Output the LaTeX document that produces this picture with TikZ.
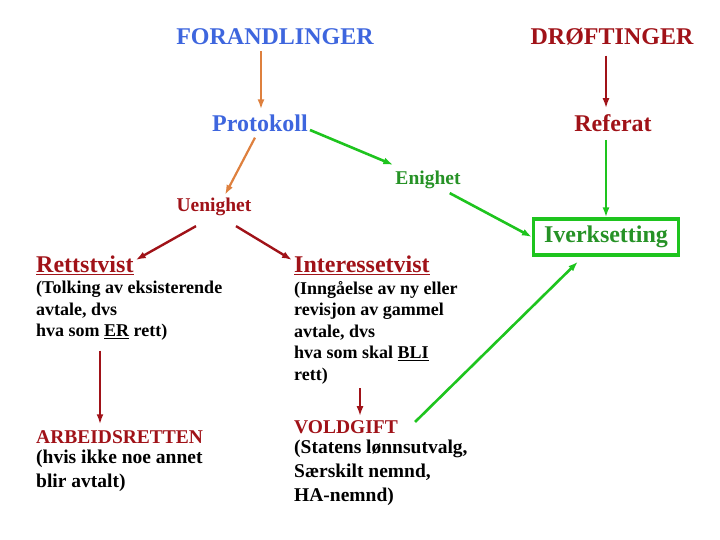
\documentclass[tikz,border=0pt]{standalone}
\usepackage{fontspec}
\setmainfont{Liberation Serif}
\usetikzlibrary{arrows.meta, positioning}

\begin{document}
\begin{tikzpicture}[
    x=1pt, y=-1pt,
    >=Latex,
    every node/.style={font=\bfseries, inner sep=2pt},
    headText/.style={font=\bfseries\fontsize{24}{27}\selectfont},
    subText/.style={font=\bfseries\fontsize{19.5}{22}\selectfont},
    bodyText/.style={font=\bfseries\fontsize{18}{21.5}\selectfont, align=left, text=black},
    lowText/.style={font=\bfseries\fontsize{19.5}{24}\selectfont, align=left, text=black},
    box/.style={rectangle, draw=boxGreen, line width=3.2pt, minimum width=145pt, minimum height=36pt},
    arrOrange/.style={-{Latex[length=10pt,width=7pt]}, draw=orangeTone, line width=2.2pt},
    arrRed/.style={-{Latex[length=10pt,width=7pt]}, draw=redTone, line width=2.4pt},
    arrGreen/.style={-{Latex[length=10pt,width=7pt]}, draw=boxGreen, line width=2.6pt}
  ]
    \definecolor{blueTone}{RGB}{62,102,222}
    \definecolor{redTone}{RGB}{160,18,24}
    \definecolor{orangeTone}{RGB}{222,128,62}
    \definecolor{greenTone}{RGB}{38,146,38}
    \definecolor{boxGreen}{RGB}{30,196,30}

    \useasboundingbox (0,0) rectangle (720,540);

    \node[headText, text=blueTone] (forh) at (275,37) {FORANDLINGER};
    \node[headText, text=redTone] (drof) at (612,37) {DRØFTINGER};
    \node[headText, text=blueTone] (prot) at (260,123) {Protokoll};
    \node[headText, text=redTone] (ref) at (613,123) {Referat};
    \node[subText, text=greenTone] (enig) at (428,180) {Enighet};
    \node[subText, text=redTone] (uenig) at (214,207) {Uenighet};
    \node[box, text=greenTone, headText] (iverk) at (606,237) {Iverksetting};

    \node[headText, text=redTone, anchor=west] (rett) at (34,265) {\underline{Rettstvist}};
    \node[bodyText, anchor=north west] (rettTxt) at (34,279) {(Tolking av eksisterende\\avtale, dvs\\hva som \underline{ER} rett)};
    \node[headText, text=redTone, anchor=west] (inter) at (292,265) {\underline{Interessetvist}};
    \node[bodyText, anchor=north west] (interTxt) at (292,279) {(Inngåelse av ny eller\\revisjon av gammel\\avtale, dvs\\hva som skal \underline{BLI}\\rett)};

    \node[subText, text=redTone, anchor=west] (arb) at (34,437) {ARBEIDSRETTEN};
    \node[lowText, anchor=north west] (arbTxt) at (34,448) {(hvis ikke noe annet\\blir avtalt)};
    \node[subText, text=redTone, anchor=west] (vold) at (292,427) {VOLDGIFT};
    \node[lowText, anchor=north west] (voldTxt) at (292,438) {(Statens lønnsutvalg,\\Særskilt nemnd,\\HA-nemnd)};

    \draw[arrOrange] ([xshift=-14pt,yshift=-4pt]forh.south) -- ([xshift=1pt,yshift=3pt]prot.north);
    \draw[arrRed] ([xshift=-6pt,yshift=-8pt]drof.south) -- ([xshift=-7pt,yshift=4pt]ref.north);
    \draw[arrGreen] ([yshift=-7pt]prot.east) -- ([yshift=4pt]enig.north west);
    \draw[arrOrange] ([xshift=-5pt,yshift=-4pt]prot.south) -- ([xshift=11pt,yshift=1pt]uenig.north);
    \draw[arrGreen] ([xshift=-13pt,yshift=-2pt]enig.south east) -- (iverk.west);
    \draw[arrGreen] ([yshift=-6pt]ref.south -| iverk.north) -- (iverk.north);
    \draw[arrRed] ([xshift=-18pt,yshift=-8pt]uenig.south) -- ([yshift=5pt]rett.east);
    \draw[arrRed] ([xshift=22pt,yshift=-8pt]uenig.south) -- ([yshift=5pt]inter.west);
    \draw[arrRed] ([xshift=66pt,yshift=-8pt]rettTxt.south west) -- ([xshift=66pt,yshift=4pt]arb.north west);
    \draw[arrRed] ([xshift=68pt,yshift=-2pt]interTxt.south west) -- ([xshift=68pt,yshift=2pt]vold.north west);
    \draw[arrGreen] ([shift={(15pt,5pt)}]vold.east) -- ([xshift=-28pt,yshift=-5pt]iverk.south);
  \end{tikzpicture}
\end{document}
